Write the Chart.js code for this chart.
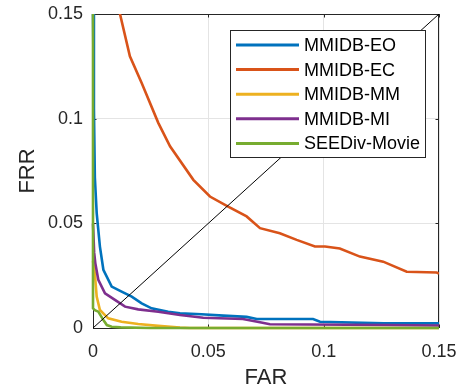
<!DOCTYPE html>
<html><head><meta charset="utf-8">
<script src="https://cdn.jsdelivr.net/npm/chart.js@4/dist/chart.umd.min.js"></script>
<style>html,body{margin:0;padding:0;background:#fff;}#wrap{width:461px;height:391px;}</style>
</head><body><div id="wrap"><canvas id="c" width="461" height="391"></canvas></div>
<script>
const seriesNames = ['MMIDB-EO', 'MMIDB-EC', 'MMIDB-MM', 'MMIDB-MI', 'SEEDiv-Movie'];
const seriesColors = ['#0072BD', '#D95319', '#EDB120', '#7E2F8E', '#77AC30'];

const eoFAR = [0, 0.0004, 0.0008, 0.0016, 0.003, 0.0045, 0.0081, 0.0124, 0.0168, 0.0211, 0.0254, 0.0326, 0.0377, 0.047, 0.0565, 0.0666, 0.071, 0.0954, 0.0984, 0.126, 0.15];
const eoFRR = [0.15, 0.105, 0.072, 0.0549, 0.0389, 0.0278, 0.0198, 0.0174, 0.015, 0.0118, 0.0094, 0.0078, 0.007, 0.0066, 0.0059, 0.0053, 0.0043, 0.0043, 0.003, 0.0022, 0.0022];

const ecFAR = [0.0105, 0.0117, 0.016, 0.0211, 0.0283, 0.0334, 0.0435, 0.0507, 0.0586, 0.0666, 0.0724, 0.081, 0.0883, 0.0962, 0.1006, 0.107, 0.1157, 0.1258, 0.136, 0.149, 0.15];
const ecFRR = [0.155, 0.15, 0.1298, 0.117, 0.098, 0.0868, 0.0708, 0.0628, 0.058, 0.0533, 0.0477, 0.0453, 0.0421, 0.0389, 0.0389, 0.038, 0.0341, 0.0317, 0.0269, 0.0265, 0.026];

const mmFAR = [0, 0.0008, 0.0016, 0.003, 0.0066, 0.0124, 0.0196, 0.0283, 0.0377, 0.042, 0.15];
const mmFRR = [0.032, 0.026, 0.015, 0.0086, 0.0046, 0.003, 0.0019, 0.001, 0.0002, 0, 0];

const miFAR = [0, 0.0005, 0.001, 0.0023, 0.0052, 0.0095, 0.0139, 0.0196, 0.0283, 0.0377, 0.0478, 0.065, 0.0724, 0.0767, 0.127, 0.15];
const miFRR = [0.05, 0.036, 0.031, 0.023, 0.0166, 0.0134, 0.0102, 0.0089, 0.0078, 0.0062, 0.0049, 0.0043, 0.0027, 0.0018, 0.0014, 0.0012];

const seedFAR = [0, 0, 0.0008, 0.0023, 0.0045, 0.006, 0.0081, 0.012, 0.025, 0.15];
const seedFRR = [0.15, 0.0094, 0.0085, 0.0078, 0.0038, 0.0014, 0.0006, 0.0003, 0, 0];

const diagFAR = [0, 0.15];
const diagFRR = [0, 0.15];

const tickValues = [0, 0.05, 0.1, 0.15];
const tickLabels = ['0', '0.05', '0.1', '0.15'];
const xTitle = 'FAR';
const yTitle = 'FRR';

const xs = [eoFAR, ecFAR, mmFAR, miFAR, seedFAR];
const ys = [eoFRR, ecFRR, mmFRR, miFRR, seedFRR];
const pts = (a, b) => a.map((v, i) => ({x: v, y: b[i]}));

const FONT = 'Liberation Sans, Arial, Helvetica, sans-serif';
const AX = '#262626';

const datasets = [{
  label: 'diag', data: pts(diagFAR, diagFRR), borderColor: '#000', borderWidth: 1,
  pointRadius: 0, order: 0, clip: 0
}];
seriesNames.forEach((n, i) => {
  datasets.push({
    label: n, data: pts(xs[i], ys[i]), borderColor: seriesColors[i], borderWidth: 2.6,
    pointRadius: 0, tension: 0, order: 5 - i,
    clip: {left: 3, top: 0, right: 0, bottom: 3}
  });
});

const framePlugin = {
  id: 'frame',
  beforeDatasetsDraw(chart) {
    const {ctx, chartArea: a, scales} = chart;
    ctx.save();
    ctx.strokeStyle = AX; ctx.lineWidth = 1;
    ctx.strokeRect(a.left + 0.5, a.top + 0.5, a.right - a.left - 1, a.bottom - a.top);
    const tl = 3.5;
    ctx.beginPath();
    tickValues.forEach(v => {
      const px = Math.round(scales.x.getPixelForValue(v)) + 0.5;
      ctx.moveTo(px, a.bottom); ctx.lineTo(px, a.bottom - tl);
      ctx.moveTo(px, a.top); ctx.lineTo(px, a.top + tl);
      const py = Math.round(scales.y.getPixelForValue(v)) + 0.5;
      ctx.moveTo(a.left, py); ctx.lineTo(a.left + tl, py);
      ctx.moveTo(a.right, py); ctx.lineTo(a.right - tl, py);
    });
    ctx.stroke();
    ctx.restore();
  },
  afterDatasetsDraw(chart) {
    const {ctx, chartArea: a} = chart;
    ctx.save();
    const lx = a.left + 137, ly = a.top + 16, lw = 195, lh = 127;
    ctx.fillStyle = '#fff';
    ctx.fillRect(lx, ly, lw, lh);
    ctx.strokeStyle = AX; ctx.lineWidth = 1;
    ctx.strokeRect(lx + 0.5, ly + 0.5, lw, lh);
    ctx.font = '18px ' + FONT;
    ctx.textBaseline = 'middle';
    ctx.textAlign = 'left';
    seriesNames.forEach((n, i) => {
      const y = ly + 15 + i * 24.6;
      ctx.strokeStyle = seriesColors[i]; ctx.lineWidth = 3;
      ctx.beginPath(); ctx.moveTo(lx + 6, y); ctx.lineTo(lx + 69, y); ctx.stroke();
      ctx.fillStyle = '#000';
      ctx.fillText(n, lx + 74, y + 1);
    });
    ctx.restore();
  }
};

const setTicks = s => { s.ticks = tickValues.map(v => ({value: v})); };

new Chart(document.getElementById('c'), {
  type: 'line',
  data: {datasets},
  options: {
    responsive: false, animation: false, devicePixelRatio: 1,
    layout: {padding: {left: 0, right: 22, top: 14, bottom: 0}},
    plugins: {legend: {display: false}, tooltip: {enabled: false}},
    scales: {
      x: {
        type: 'linear', min: 0, max: 0.15,
        afterBuildTicks: setTicks,
        afterFit: s => { s.height = 63; s.paddingLeft = 0; s.paddingRight = 0; },
        grid: {color: '#e4e4e4', drawTicks: false},
        border: {display: false},
        ticks: {padding: 13, color: AX, font: {family: FONT, size: 18}, maxRotation: 0,
          callback: (v, i) => tickLabels[i]},
        title: {display: true, text: xTitle, color: AX, font: {family: FONT, size: 22},
          padding: {top: 0, bottom: 0}}
      },
      y: {
        type: 'linear', min: 0, max: 0.15,
        afterBuildTicks: setTicks,
        afterFit: s => { s.width = 93; s.paddingTop = 0; s.paddingBottom = 0; },
        grid: {color: '#e4e4e4', drawTicks: false},
        border: {display: false},
        ticks: {padding: 10, color: AX, font: {family: FONT, size: 18},
          callback: (v, i) => tickLabels[i]},
        title: {display: true, text: yTitle, color: AX, font: {family: FONT, size: 22},
          padding: {top: 15, bottom: 0}}
      }
    }
  },
  plugins: [framePlugin]
});
</script></body></html>
